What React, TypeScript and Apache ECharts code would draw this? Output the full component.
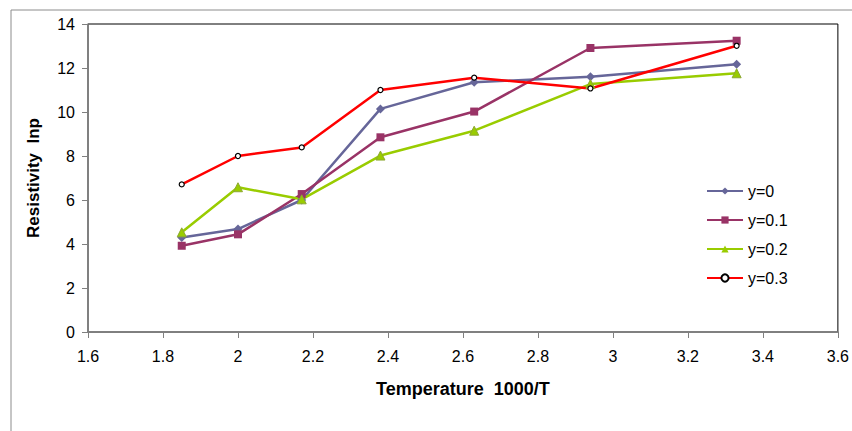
import React, { useEffect, useRef } from "react";
import * as echarts from "echarts";

const xValues = [1.85, 2.0, 2.17, 2.38, 2.63, 2.94, 3.33];
const seriesNames = ["y=0", "y=0.1", "y=0.2", "y=0.3"];
const y0 = [4.3, 4.68, 6.0, 10.14, 11.35, 11.6, 12.17];
const y01 = [3.92, 4.44, 6.27, 8.85, 10.02, 12.91, 13.24];
const y02 = [4.53, 6.58, 6.03, 8.02, 9.15, 11.27, 11.76];
const y03 = [6.71, 8.0, 8.39, 11.0, 11.56, 11.07, 13.01];

const FONT = "'Liberation Sans', Arial, sans-serif";

export default function App() {
  const ref = useRef<HTMLDivElement>(null);
  useEffect(() => {
    document.body.style.margin = "0";
    const chart = echarts.init(ref.current!, null, { renderer: "svg" });
    const pair = (ys: number[]) => xValues.map((x, i) => [x, ys[i]]);
    const mk = (name: string, ys: number[], color: string, symbol: string, size: number, extra: any = {}) => ({
      name,
      type: "line",
      data: pair(ys),
      symbol,
      symbolSize: size,
      lineStyle: { color, width: 2.5 },
      itemStyle: { color, ...extra },
      emphasis: { disabled: true },
    });
    chart.setOption({
      animation: false,
      textStyle: { fontFamily: FONT },
      graphic: [
        {
          type: "rect",
          shape: { x: 11, y: 10, width: 860, height: 440 },
          style: { fill: "none", stroke: "#8c8c8c", lineWidth: 1 },
          silent: true,
        },
      ],
      grid: {
        left: 88,
        top: 24,
        right: 11,
        bottom: 99,
        show: true,
        borderColor: "#000",
        borderWidth: 1,
        backgroundColor: "transparent",
      },
      legend: {
        orient: "vertical",
        left: 701,
        top: 178,
        itemGap: 13,
        itemWidth: 36,
        itemHeight: 9,
        data: seriesNames,
        textStyle: { fontSize: 16, color: "#000", fontFamily: FONT },
      },
      xAxis: {
        type: "value",
        min: 1.6,
        max: 3.6,
        interval: 0.2,
        name: "Temperature  1000/T",
        nameLocation: "middle",
        nameGap: 48,
        nameTextStyle: { fontSize: 18, fontWeight: "bold", color: "#000", fontFamily: FONT },
        axisLine: { show: true, lineStyle: { color: "#808080", width: 1.5 } },
        axisTick: { show: true, length: 6, lineStyle: { color: "#808080" } },
        axisLabel: {
          fontSize: 16,
          color: "#000",
          margin: 16,
          formatter: (v: number) => String(Number(v.toFixed(1))),
          fontFamily: FONT,
        },
        splitLine: { show: false },
      },
      yAxis: {
        type: "value",
        min: 0,
        max: 14,
        interval: 2,
        name: "Resistivity  lnp",
        nameLocation: "middle",
        nameGap: 46,
        nameTextStyle: { fontSize: 17, fontWeight: "bold", color: "#000", fontFamily: FONT },
        axisLine: { show: true, lineStyle: { color: "#808080", width: 1.5 } },
        axisTick: { show: true, length: 6, lineStyle: { color: "#808080" } },
        axisLabel: { fontSize: 16, color: "#000", margin: 13, fontFamily: FONT },
        splitLine: { show: false },
      },
      series: [
        mk(seriesNames[0], y0, "#666699", "diamond", 9),
        mk(seriesNames[1], y01, "#993366", "rect", 8),
        mk(seriesNames[2], y02, "#99CC00", "triangle", 9, { borderColor: "#8da832" }),
        {
          ...mk(seriesNames[3], y03, "#FF0000", "circle", 5),
          itemStyle: { color: "#fff", borderColor: "#000", borderWidth: 1.2 },
        },
      ],
    });
    return () => chart.dispose();
  }, []);
  return <div ref={ref} style={{ width: 852, height: 431 }} />;
}
